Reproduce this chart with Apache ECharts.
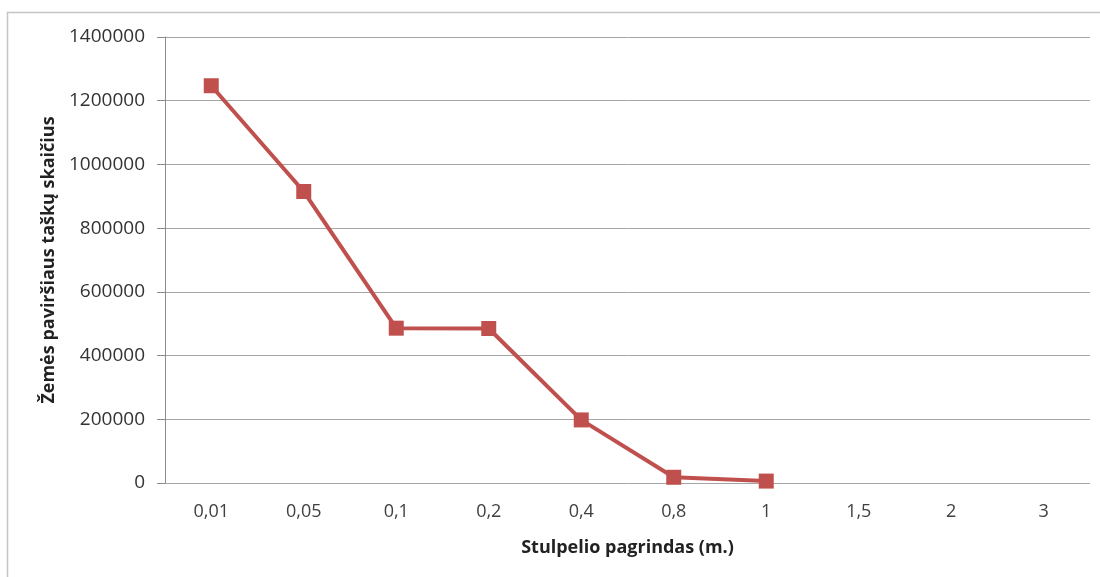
<!DOCTYPE html>
<html>
<head>
<meta charset="utf-8">
<script src="https://cdn.jsdelivr.net/npm/echarts@6/dist/echarts.min.js"></script>
<style>
html,body{margin:0;padding:0;background:#fff;}
#c{width:1100px;height:577px;}
</style>
</head>
<body>
<div id="c"></div>
<script>
const categories = ['0,01','0,05','0,1','0,2','0,4','0,8','1','1,5','2','3'];
const values = [1247000, 915000, 486000, 485000, 198000, 18000, 6000, null, null, null];
const yTicks = {min: 0, max: 1400000, interval: 200000};

const chart = echarts.init(document.getElementById('c'));
const font = '"Open Sans", "Liberation Sans", sans-serif';
chart.setOption({
  animation: false,
  graphic: [{
    type: 'rect',
    shape: {x: 7.5, y: 12.5, width: 1300, height: 800},
    style: {fill: 'none', stroke: '#c4c4c4', lineWidth: 1.5},
    silent: true
  }],
  grid: {left: 165, right: 10, top: 37, bottom: 94},
  xAxis: {
    type: 'category',
    data: categories,
    boundaryGap: true,
    axisLine: {show: false},
    axisTick: {show: false},
    axisLabel: {color: '#404040', fontSize: 18, fontFamily: font, margin: 20},
    name: 'Stulpelio pagrindas (m.)',
    nameLocation: 'middle',
    nameGap: 56,
    nameTextStyle: {color: '#222', fontSize: 18, fontWeight: 'bold', fontFamily: font}
  },
  yAxis: {
    type: 'value',
    min: yTicks.min, max: yTicks.max, interval: yTicks.interval,
    axisLine: {show: true, lineStyle: {color: '#8c8c8c', width: 1}},
    axisTick: {show: true, inside: false, length: 8, lineStyle: {color: '#8c8c8c'}},
    splitLine: {show: true, lineStyle: {color: '#a6a6a6', width: 1}},
    axisLabel: {color: '#333', fontSize: 19, fontFamily: font, margin: 20,
      formatter: function (v) { return String(v); }},
    name: 'Žemės paviršiaus taškų skaičius',
    nameLocation: 'middle',
    nameGap: 106,
    nameTextStyle: {color: '#222', fontSize: 18, fontWeight: 'bold', fontFamily: font}
  },
  series: [{
    type: 'line',
    data: values,
    connectNulls: false,
    symbol: 'rect',
    symbolSize: 15,
    lineStyle: {color: '#C0504D', width: 4},
    itemStyle: {color: '#C0504D'}
  }]
});
</script>
</body>
</html>
